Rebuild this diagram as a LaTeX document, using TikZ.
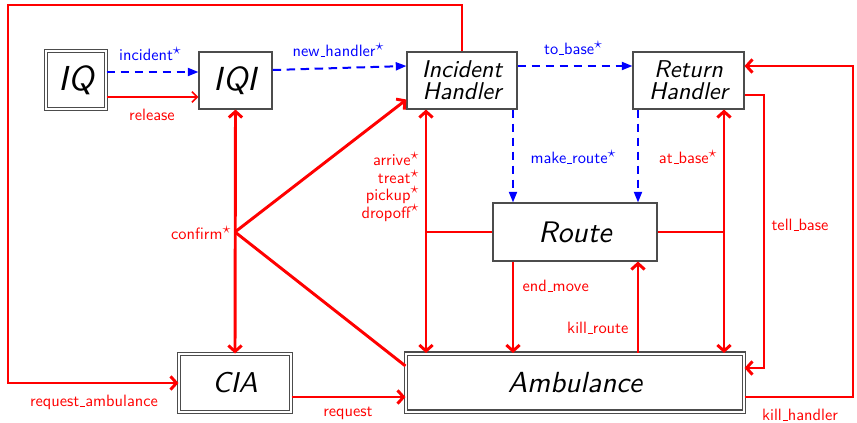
\documentclass[tikz,border=0pt]{standalone}
\usepackage{fontspec}
\setsansfont{lmsans10-regular}[Extension=.otf, ItalicFont=lmsans10-oblique, SlantedFont=lmsans10-oblique]
\usetikzlibrary{arrows.meta,calc}
% short underscore drawn as a rule at the baseline
\newcommand\us{\leavevmode\kern.06em\vbox{\hrule width.3em}}
% raised star marking repeated signals
\newcommand\rep{\raisebox{0.4em}{$\star$}}
\begin{document}
\begin{tikzpicture}[x=0.75pt,y=-0.75pt,
  box/.style={draw=black!70, line width=0.8pt, fill=white, inner sep=0pt,
    align=center, font=\sffamily\slshape},
  dbox/.style={box, double=white, double distance=1.5pt},
  rtip/.tip={Straight Barb[length=4.5pt,width=10pt]},
  rtipthin/.tip={Straight Barb[length=4pt,width=8pt]},
  btip/.tip={Triangle[length=8pt,width=6pt]},
  sig/.style={red, line width=2.2pt, -rtip},
  dsig/.style={red, line width=2.2pt, rtip-rtip},
  plain/.style={red, line width=2.2pt},
  thin/.style={red, line width=1.3pt, -rtipthin},
  call/.style={blue, line width=1.5pt, dash pattern=on 6.5pt off 4pt, -btip},
  lab/.style={font=\sffamily\fontsize{12.3}{14}\selectfont, inner sep=1pt},
  rlab/.style={lab, red},
  blab/.style={lab, blue},
]
\useasboundingbox (0,0) rectangle (857,422);

% processes
\node[dbox, minimum width=45pt, minimum height=43.5pt, font=\sffamily\slshape\fontsize{26}{28}\selectfont] (IQ) at (76,80) {IQ};
\node[box, minimum width=54.75pt, minimum height=42.75pt, font=\sffamily\slshape\fontsize{25}{27}\selectfont] (IQI) at (235.5,80.5) {IQI};
\node[box, minimum width=82.5pt, minimum height=42.75pt, font=\sffamily\slshape\fontsize{18.2}{17.5}\selectfont] (IH) at (462,80.5) {Incident\\[-1pt]Handler};
\node[box, minimum width=83.25pt, minimum height=42.75pt, font=\sffamily\slshape\fontsize{18.2}{17.5}\selectfont] (RH) at (688.5,80.5) {Return\\[-1pt]Handler};
\node[box, minimum width=123pt, minimum height=43.5pt, font=\sffamily\slshape\fontsize{22.3}{24}\selectfont] (Route) at (575,232) {Route};
\node[dbox, minimum width=253.5pt, minimum height=43.5pt, font=\sffamily\slshape\fontsize{21.8}{24}\selectfont] (Amb) at (575,382.5) {Ambulance};
\node[dbox, minimum width=84pt, minimum height=43.5pt, font=\sffamily\slshape\fontsize{21.5}{23}\selectfont] (CIA) at (235,383) {CIA};

% blue (dashed) calls
\draw[call] (IQ.east |- 0,72) -- (IQI.west |- 0,72);
\draw[call] (IQI.east |- 0,70) -- (IH.west |- 0,66);
\draw[call] (IH.east |- 0,66) -- (RH.west |- 0,66);
\draw[call] (IH.south -| 513,0) -- (Route.north -| 513,0);
\draw[call] (RH.south -| 638,0) -- (Route.north -| 638,0);

\node[blab] at (150,54) {incident\rep};
\node[blab] at (338,50) {new\us handler\rep};
\node[blab] at (573,48) {to\us base\rep};
\node[blab] at (573,157) {make\us route\rep};

% red signals
\draw[thin] (IQ.east |- 0,97) -- (IQI.west |- 0,97);
\node[rlab] at (152,115) {release};

\draw[dsig] (IQI.south) -- (CIA.north);
\coordinate (cf) at (235,232);
\draw[sig] (cf) -- ($(IH.south west)+(0,-10)$);
\draw[plain] (cf) -- ($(Amb.north west)+(0,13)$);
\node[rlab, anchor=east] at (232,233) {confirm\rep};

\draw[dsig] (IH.south -| 426,0) -- (Amb.north -| 426,0);
\draw[plain] (Route.west) -- (Route.west -| 426,0);
\node[rlab, anchor=east] at (420,159) {arrive\rep};
\node[rlab, anchor=east] at (420,177) {treat\rep};
\node[rlab, anchor=east] at (420,195) {pickup\rep};
\node[rlab, anchor=east] at (420,213) {dropoff\rep};

\draw[sig] (Route.south -| 513,0) -- (Amb.north -| 513,0);
\node[rlab, anchor=west] at (521,286) {end\us move};
\draw[sig] (Amb.north -| 638,0) -- (Route.south -| 638,0);
\node[rlab, anchor=east] at (630,328) {kill\us route};

\draw[dsig] (RH.south -| 724,0) -- (Amb.north -| 724,0);
\draw[plain] (Route.east) -- (Route.east -| 724,0);
\node[rlab, anchor=east] at (718,157) {at\us base\rep};

\draw[sig] (RH.east |- 0,95) -| (764,368) -- (Amb.east |- 0,368);
\node[rlab] at (800,225) {tell\us base};
\draw[sig] (Amb.east |- 0,397) -| (853,66) -- (RH.east |- 0,66);
\node[rlab] at (800,415) {kill\us handler};

\draw[sig] (IH.north) -- (462,5) -| (8,383) -- (CIA.west |- 0,383);
\node[rlab] at (94,402) {request\us ambulance};
\draw[sig] (CIA.east |- 0,397) -- (Amb.west |- 0,397);
\node[rlab] at (348,413) {request};
\end{tikzpicture}
\end{document}
